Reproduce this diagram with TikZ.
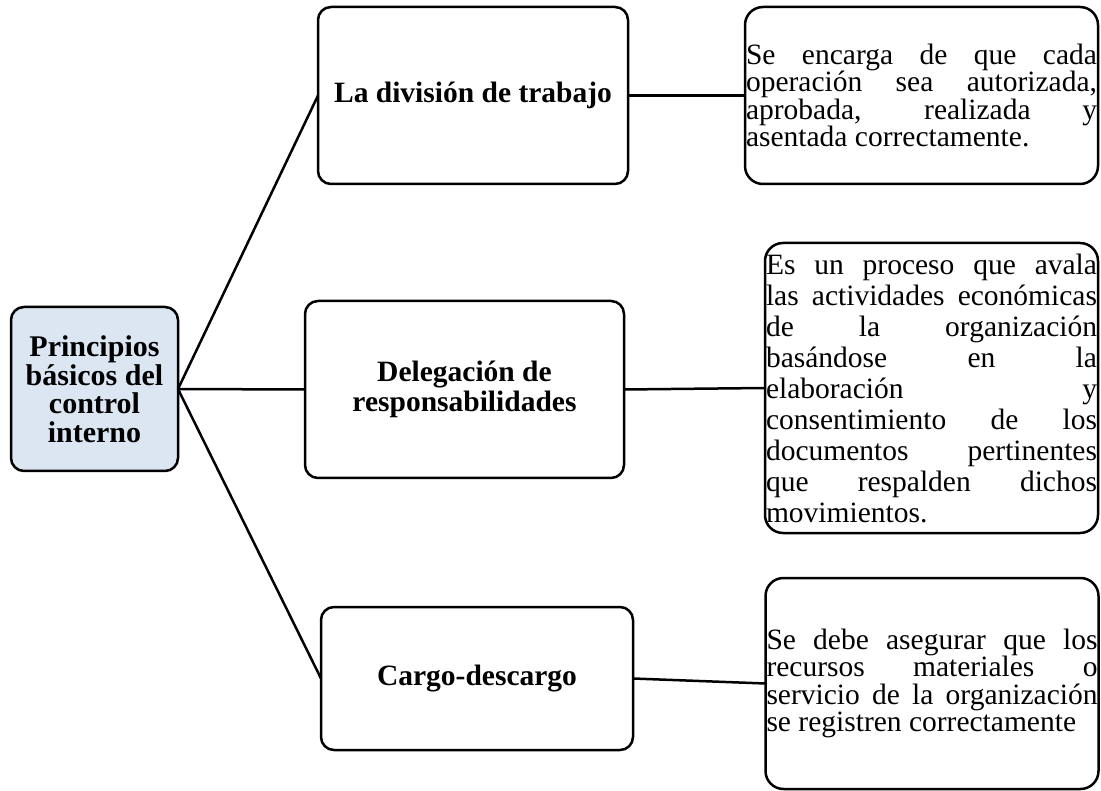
\documentclass[tikz,border=0pt]{standalone}
\usepackage{fontspec}
\setmainfont{Liberation Serif}
\usepackage{tikz}
\usetikzlibrary{positioning}
\definecolor{rootblue}{HTML}{DCE6F2}

\begin{document}
\begin{tikzpicture}[x=1pt, y=-1pt,
  box/.style={draw, line width=2.5pt, rounded corners=13pt, inner sep=1pt, outer sep=0pt},
  pbox/.style={box, align=center, font=\bfseries\fontsize{29.5}{30.5}\selectfont},
  dbox/.style={box, rounded corners=18pt, align=left, font=\fontsize{29.5}{27.5}\selectfont},
  link/.style={line width=2.5pt}
]
\useasboundingbox (0,0) rectangle (1101,791);

\node[box, fill=rootblue, minimum width=167pt, minimum height=164pt, align=center,
  font=\bfseries\fontsize{30}{28.5}\selectfont] at (94.5,389) (principios) {Principios\\básicos del\\control\\interno};

\node[pbox, minimum width=310pt, minimum height=177pt] at (473,95.5) (div_trabajo) {La división de trabajo};
\node[pbox, minimum width=319pt, minimum height=177pt] at (464.5,389.5) (delegacion) {Delegación de\\responsabilidades};
\node[pbox, minimum width=312pt, minimum height=143pt] at (477,678.5) (cargo) {Cargo-descargo};

\node[dbox, minimum width=353pt, minimum height=177pt] at (921.5,95.5) (desc_trabajo) {%
  \makebox[351pt][s]{Se encarga de que cada}\\
  \makebox[351pt][s]{operación sea autorizada,}\\
  \makebox[351pt][s]{aprobada, realizada y}\\
  asentada correctamente.};
\node[dbox, minimum width=333pt, minimum height=290pt, font=\fontsize{29.5}{31}\selectfont] at (931.5,388) (desc_delegacion) {%
  \makebox[331pt][s]{Es un proceso que avala}\\
  \makebox[331pt][s]{las actividades económicas}\\
  \makebox[331pt][s]{de la organización}\\
  \makebox[331pt][s]{basándose en la}\\
  \makebox[331pt][s]{elaboración y}\\
  \makebox[331pt][s]{consentimiento de los}\\
  \makebox[331pt][s]{documentos pertinentes}\\
  \makebox[331pt][s]{que respalden dichos}\\
  movimientos.};
\node[dbox, minimum width=332pt, minimum height=211pt] at (932,683.5) (desc_cargo) {%
  \makebox[331pt][s]{Se debe asegurar que los}\\
  \makebox[331pt][s]{recursos materiales o}\\
  \makebox[331pt][s]{servicio de la organización}\\
  se registren correctamente};

\draw[link] (principios.east) -- (div_trabajo.west);
\draw[link] (principios.east) -- (delegacion.west);
\draw[link] (principios.east) -- (cargo.west);
\draw[link] (div_trabajo.east) -- (desc_trabajo.west);
\draw[link] (delegacion.east) -- (desc_delegacion.west);
\draw[link] (cargo.east) -- (desc_cargo.west);
\end{tikzpicture}
\end{document}
